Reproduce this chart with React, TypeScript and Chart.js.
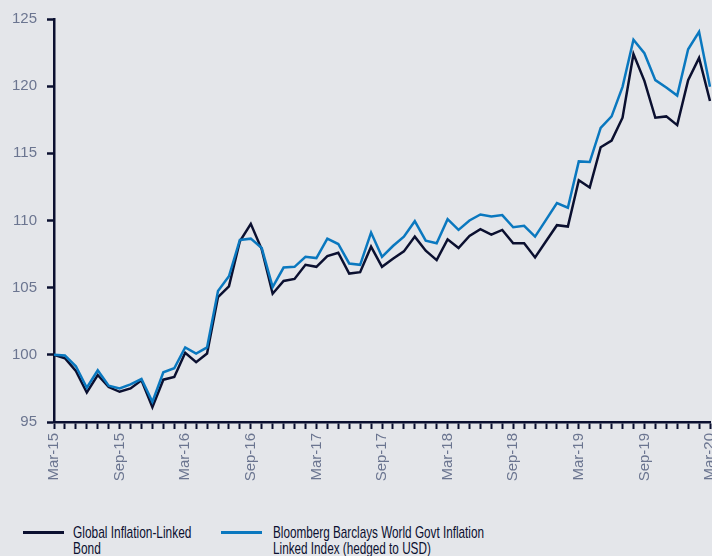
import React, { useEffect, useRef } from "react";
import { Chart, registerables } from "chart.js";

Chart.register(...registerables);

const months = [
  "Mar-15","Apr-15","May-15","Jun-15","Jul-15","Aug-15","Sep-15","Oct-15","Nov-15","Dec-15","Jan-16","Feb-16",
  "Mar-16","Apr-16","May-16","Jun-16","Jul-16","Aug-16","Sep-16","Oct-16","Nov-16","Dec-16","Jan-17","Feb-17",
  "Mar-17","Apr-17","May-17","Jun-17","Jul-17","Aug-17","Sep-17","Oct-17","Nov-17","Dec-17","Jan-18","Feb-18",
  "Mar-18","Apr-18","May-18","Jun-18","Jul-18","Aug-18","Sep-18","Oct-18","Nov-18","Dec-18","Jan-19","Feb-19",
  "Mar-19","Apr-19","May-19","Jun-19","Jul-19","Aug-19","Sep-19","Oct-19","Nov-19","Dec-19","Jan-20","Feb-20",
  "Mar-20",
];

const tickLabels = ["Mar-15","Sep-15","Mar-16","Sep-16","Mar-17","Sep-17","Mar-18","Sep-18","Mar-19","Sep-19","Mar-20"];

const globalBond = [
  100.0, 99.75, 98.8, 97.2, 98.5, 97.6, 97.25, 97.5, 98.1, 96.1, 98.15, 98.35,
  100.15, 99.45, 100.1, 104.3, 105.1, 108.45, 109.75, 107.85, 104.55, 105.5, 105.65, 106.7,
  106.55, 107.35, 107.6, 106.05, 106.15, 108.05, 106.55, 107.15, 107.7, 108.8, 107.75, 107.05,
  108.6, 107.95, 108.85, 109.35, 108.95, 109.3, 108.3, 108.3, 107.25, 108.45, 109.65, 109.55,
  113.0, 112.45, 115.45, 115.95, 117.65, 122.4, 120.4, 117.65, 117.75, 117.1, 120.45, 122.1,
  118.9,
];

const bloombergIndex = [
  100.0, 99.95, 99.15, 97.55, 98.85, 97.7, 97.5, 97.8, 98.2, 96.5, 98.7, 99.0,
  100.55, 100.1, 100.55, 104.75, 105.85, 108.55, 108.65, 107.95, 105.05, 106.5, 106.55, 107.3,
  107.2, 108.65, 108.25, 106.8, 106.7, 109.1, 107.3, 108.1, 108.8, 109.95, 108.5, 108.3,
  110.1, 109.3, 110.0, 110.45, 110.3, 110.4, 109.5, 109.6, 108.8, 110.05, 111.3, 110.95,
  114.4, 114.35, 116.9, 117.75, 119.95, 123.45, 122.45, 120.45, 119.9, 119.3, 122.75, 124.05,
  119.95,
];

const seriesNames = [
  "Global Inflation-Linked\nBond",
  "Bloomberg Barclays World Govt Inflation\nLinked Index (hedged to USD)",
];

const NAVY = "#0b1030";
const BLUE = "#0a78bf";
const GREY = "#6b7590";
const BG = "#e4e6ea";

export default function App() {
  const ref = useRef<HTMLCanvasElement>(null);

  useEffect(() => {
    document.body.style.background = BG;
    const chart = new Chart(ref.current!, {
      type: "line",
      data: {
        labels: months,
        datasets: [
          {
            label: seriesNames[0],
            data: globalBond,
            borderColor: NAVY,
            borderWidth: 2.5,
            pointRadius: 0,
            tension: 0,
            order: 1,
          },
          {
            label: seriesNames[1],
            data: bloombergIndex,
            borderColor: BLUE,
            borderWidth: 2.5,
            pointRadius: 0,
            tension: 0,
            order: 0,
          },
        ],
      },
      options: {
        responsive: false,
        animation: false,
        layout: { padding: { top: 19, right: 13, left: 0, bottom: 0 } },
        plugins: { legend: { display: false }, tooltip: { enabled: false } },
        scales: {
          x: {
            offset: false,
            afterFit: (s: any) => { s.height = 78; },
            border: { display: true, color: NAVY, width: 2.5 },
            grid: { drawOnChartArea: false, drawTicks: true, tickLength: 7, tickColor: NAVY, tickWidth: 2 },
            ticks: {
              autoSkip: false,
              maxRotation: 90,
              minRotation: 90,
              padding: 4,
              color: GREY,
              font: { family: "'Liberation Sans', Arial, sans-serif", size: 15 },
              callback: (_v: any, i: number) => (tickLabels.includes(months[i]) && i % 6 === 0 ? months[i] : ""),
            },
          },
          y: {
            min: 95,
            max: 125,
            afterFit: (s: any) => { s.width = 54; },
            border: { display: true, color: NAVY, width: 2.5 },
            grid: { drawOnChartArea: false, drawTicks: true, tickLength: 7, tickColor: NAVY, tickWidth: 2.5 },
            ticks: {
              stepSize: 5,
              padding: 10,
              color: GREY,
              font: { family: "'Liberation Sans', Arial, sans-serif", size: 15 },
            },
          },
        },
      },
    });
    return () => chart.destroy();
  }, []);

  const legendFont: React.CSSProperties = {
    position: "absolute",
    fontFamily: "'Liberation Sans', Arial, sans-serif",
    fontSize: 17,
    lineHeight: "16px",
    color: NAVY,
    whiteSpace: "pre",
    top: 525,
    transformOrigin: "0 0",
  };

  return (
    <div style={{ position: "fixed", left: 0, top: 0, width: 712, height: 556, overflow: "hidden", background: BG }}>
      <canvas ref={ref} width={732} height={500} style={{ position: "absolute", left: 0, top: 0 }} />
      <div style={{ position: "absolute", left: 23, top: 531, width: 41, height: 3, background: NAVY }} />
      <div style={{ ...legendFont, left: 73, transform: "scaleX(0.70)" }}>{seriesNames[0]}</div>
      <div style={{ position: "absolute", left: 221, top: 531, width: 41, height: 3, background: BLUE }} />
      <div style={{ ...legendFont, left: 273, transform: "scaleX(0.69)" }}>{seriesNames[1]}</div>
    </div>
  );
}
